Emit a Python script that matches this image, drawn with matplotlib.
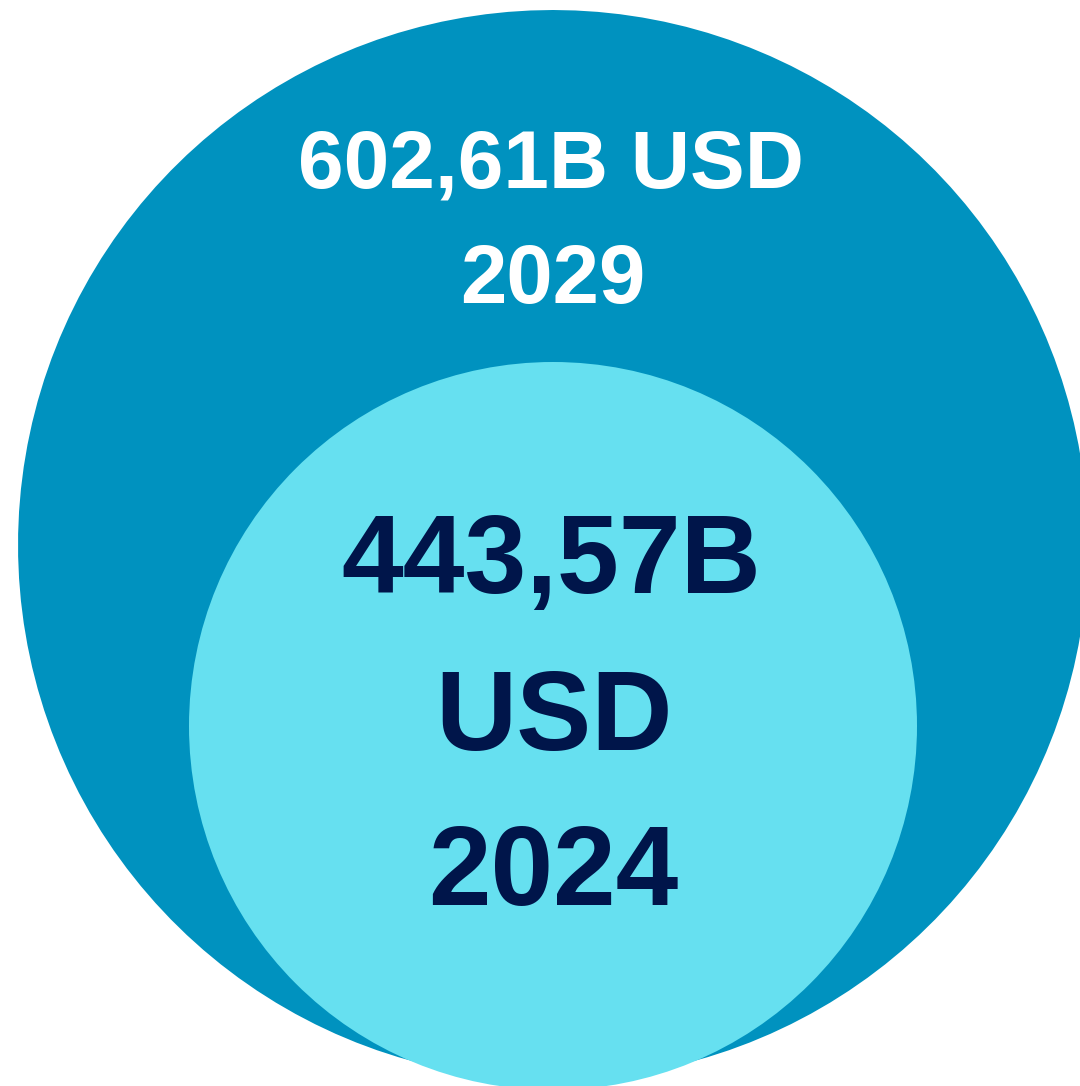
import matplotlib.pyplot as plt
from matplotlib.patches import Circle, CirclePolygon

# market size (billions USD) by year
years = [2029, 2024]
values = [602.61, 443.57]

# layout in pixel units (figure is 1080 x 1086)
W, H = 1080, 1086
big_center, big_radius = (553, 545), 535
small_center, small_radius = (553, 726), 364

big_color = '#0092BF'
small_color = '#66E0F0'
navy = '#00154A'


def fmt_value(v):
    # comma as decimal separator, like the source
    return f"{v:.2f}".replace('.', ',') + "B"


fig = plt.figure(figsize=(W / 100, H / 100), dpi=100)
ax = fig.add_axes([0, 0, 1, 1])
ax.set_xlim(0, W)
ax.set_ylim(H, 0)
ax.set_aspect('equal')
ax.axis('off')

# outer circle is drawn slightly faceted in the original
ax.add_patch(CirclePolygon(big_center, big_radius, resolution=150,
                           facecolor=big_color, edgecolor='none'))
ax.add_patch(Circle(small_center, small_radius,
                    facecolor=small_color, edgecolor='none'))

font = dict(family='Liberation Sans', weight='bold', ha='center', va='baseline')

# 2029 labels (white, on the outer ring)
ax.text(551, 188, f"{fmt_value(values[0])} USD", fontsize=59, color='white', **font)
ax.text(553, 303, str(years[0]), fontsize=60, color='white', **font)

# 2024 labels (navy, inside the inner circle)
ax.text(551, 593, fmt_value(values[1]), fontsize=80, color=navy, **font)
ax.text(554, 750, "USD", fontsize=81, color=navy, **font)
ax.text(553, 905, str(years[1]), fontsize=81, color=navy, **font)

fig.savefig('out.png', dpi=100)
